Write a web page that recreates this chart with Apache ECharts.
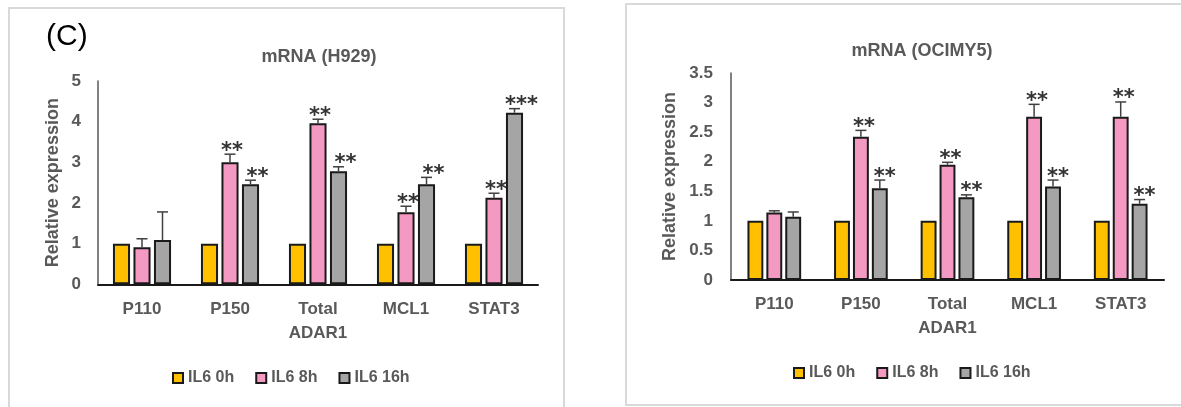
<!DOCTYPE html>
<html>
<head>
<meta charset="utf-8">
<script src="https://cdn.jsdelivr.net/npm/echarts@6/dist/echarts.min.js"></script>
<style>
html,body{margin:0;padding:0;background:#fff;}
#chart{width:1181px;height:407px;}
</style>
</head>
<body>
<div id="chart"></div>
<script>
// ---- data ----
const categories = ['P110', 'P150', 'Total\nADAR1', 'MCL1', 'STAT3'];
const seriesNames = ['IL6 0h', 'IL6 8h', 'IL6 16h'];

const h929Title = 'mRNA (H929)';
const h929_0h = [1, 1, 1, 1, 1];
const h929_8h = [0.91, 3.0, 3.96, 1.77, 2.13];
const h929_16h = [1.09, 2.46, 2.78, 2.46, 4.22];
const h929_8h_errTop = [1.12, 3.2, 4.06, 1.92, 2.24];
const h929_16h_errTop = [1.78, 2.56, 2.89, 2.63, 4.32];
const h929_8h_sig = ['', '**', '**', '**', '**'];
const h929_16h_sig = ['', '**', '**', '**', '***'];
const h929_yTicks = [0, 1, 2, 3, 4, 5];

const ociTitle = 'mRNA (OCIMY5)';
const oci_0h = [1, 1, 1, 1, 1];
const oci_8h = [1.14, 2.42, 1.95, 2.76, 2.76];
const oci_16h = [1.07, 1.55, 1.40, 1.58, 1.29];
const oci_8h_errTop = [1.17, 2.53, 1.99, 2.97, 3.01];
const oci_16h_errTop = [1.15, 1.69, 1.44, 1.69, 1.36];
const oci_8h_sig = ['', '**', '**', '**', '**'];
const oci_16h_sig = ['', '**', '**', '**', '**'];
const oci_yTicks = [0, 0.5, 1, 1.5, 2, 2.5, 3, 3.5];

const yName = 'Relative expression';
const panelLabel = '(C)';

// ---- styles ----
const colors = ['#FFC000', '#F49AC2', '#A5A5A5'];
const textColor = '#595959';
const FONT = '"Liberation Sans", Arial, sans-serif';

const chart = echarts.init(document.getElementById('chart'), null, {renderer: 'canvas'});

function errSeries(k, vals, tops, sigs, gi, catGap, barGap, starDx) {
  return {
    type: 'custom',
    xAxisIndex: gi, yAxisIndex: gi,
    z: 5,
    silent: true,
    data: vals.map((v, i) => [i, v, tops[i]]),
    renderItem: function (params, api) {
      const cat = api.value(0), v = api.value(1), top = api.value(2);
      const bandW = api.size([1, 0])[0];
      const groupW = bandW * (1 - catGap);
      const bw = groupW / (3 + 2 * barGap);
      const off = -groupW / 2 + k * bw * (1 + barGap) + bw / 2;
      const p0 = api.coord([cat, v]);
      const p1 = api.coord([cat, top]);
      const x = p0[0] + off;
      const cap = 5.5;
      const children = [
        {type: 'line', shape: {x1: x, y1: p0[1], x2: x, y2: p1[1]}, style: {stroke: '#404040', lineWidth: 1.5}},
        {type: 'line', shape: {x1: x - cap, y1: p1[1], x2: x + cap, y2: p1[1]}, style: {stroke: '#404040', lineWidth: 1.5}}
      ];
      const s = sigs[params.dataIndex];
      if (s) {
        children.push({
          type: 'text',
          x: x + starDx,
          y: p1[1] - 3,
          style: {
            text: s,
            fill: '#333',
            font: 'bold 21px "DejaVu Sans", sans-serif',
            align: 'center', verticalAlign: 'middle',
            textAlign: 'center', textVerticalAlign: 'middle'
          }
        });
      }
      return {type: 'group', children: children};
    }
  };
}

function barSeries(name, vals, gi, k, catGap, barGap) {
  return {
    name: name,
    type: 'bar',
    xAxisIndex: gi, yAxisIndex: gi,
    data: vals,
    barGap: (barGap * 100) + '%',
    barCategoryGap: (catGap * 100) + '%',
    itemStyle: {color: colors[k], borderColor: '#1a1a1a', borderWidth: 2},
    emphasis: {disabled: true}
  };
}

const g0 = {catGap: 0.34, barGap: 0.2};
const g1 = {catGap: 0.38, barGap: 0.19};

function xAxisFor(gi, margin) {
  return {
    type: 'category', gridIndex: gi, data: categories,
    axisLine: {lineStyle: {color: '#1a1a1a', width: 2}},
    axisTick: {show: false},
    axisLabel: {color: textColor, fontSize: 17, fontWeight: 'bold', fontFamily: FONT, margin: margin, lineHeight: 24, interval: 0}
  };
}
function yAxisFor(gi, max, interval, nameGap, margin) {
  return {
    type: 'value', gridIndex: gi, min: 0, max: max, interval: interval,
    name: yName, nameLocation: 'middle', nameRotate: 90, nameGap: nameGap,
    nameTextStyle: {color: textColor, fontSize: 18, fontWeight: 'bold', fontFamily: FONT},
    axisLine: {show: true, lineStyle: {color: '#595959', width: 1.5}},
    axisTick: {show: false},
    splitLine: {show: false},
    axisLabel: {color: textColor, fontSize: 17, fontWeight: 'bold', fontFamily: FONT, margin: margin}
  };
}

const legendCommon = {
  data: seriesNames, icon: 'rect', itemWidth: 10, itemHeight: 10, itemGap: 21, padding: 0,
  textStyle: {color: textColor, fontSize: 16, fontWeight: 'bold', fontFamily: FONT},
  selectedMode: false
};

const option = {
  animation: false,
  backgroundColor: '#ffffff',
  graphic: [
    {type: 'rect', shape: {x: 9, y: 8, width: 555, height: 420}, style: {fill: 'none', stroke: '#d9d9d9', lineWidth: 2}, z: -10},
    {type: 'rect', shape: {x: 626, y: 4, width: 580, height: 401}, style: {fill: 'none', stroke: '#d9d9d9', lineWidth: 2}, z: -10},
    {type: 'text', x: 46, y: 22, style: {text: panelLabel, font: '30px "Liberation Sans", Arial, sans-serif', fill: '#000'}}
  ],
  title: [
    {text: h929Title, left: 319, top: 48, textAlign: 'center', padding: 0,
     textStyle: {color: textColor, fontSize: 18, fontWeight: 'bold', fontFamily: FONT}},
    {text: ociTitle, left: 922, top: 42, textAlign: 'center', padding: 0,
     textStyle: {color: textColor, fontSize: 18, fontWeight: 'bold', fontFamily: FONT}}
  ],
  legend: [
    Object.assign({left: 172, top: 370}, legendCommon),
    Object.assign({left: 793, top: 365}, legendCommon)
  ],
  grid: [
    {left: 98, top: 81, width: 440, height: 203.3, containLabel: false},
    {left: 731, top: 73, width: 433, height: 207, containLabel: false}
  ],
  xAxis: [xAxisFor(0, 13), xAxisFor(1, 12)],
  yAxis: [yAxisFor(0, 5, 1, 36, 17), yAxisFor(1, 3.5, 0.5, 52, 18)],
  series: [
    barSeries(seriesNames[0], h929_0h, 0, 0, g0.catGap, g0.barGap),
    barSeries(seriesNames[1], h929_8h, 0, 1, g0.catGap, g0.barGap),
    barSeries(seriesNames[2], h929_16h, 0, 2, g0.catGap, g0.barGap),
    errSeries(1, h929_8h, h929_8h_errTop, h929_8h_sig, 0, g0.catGap, g0.barGap, 2),
    errSeries(2, h929_16h, h929_16h_errTop, h929_16h_sig, 0, g0.catGap, g0.barGap, 7),
    barSeries(seriesNames[0], oci_0h, 1, 0, g1.catGap, g1.barGap),
    barSeries(seriesNames[1], oci_8h, 1, 1, g1.catGap, g1.barGap),
    barSeries(seriesNames[2], oci_16h, 1, 2, g1.catGap, g1.barGap),
    errSeries(1, oci_8h, oci_8h_errTop, oci_8h_sig, 1, g1.catGap, g1.barGap, 3),
    errSeries(2, oci_16h, oci_16h_errTop, oci_16h_sig, 1, g1.catGap, g1.barGap, 5)
  ]
};
chart.setOption(option);
</script>
</body>
</html>
